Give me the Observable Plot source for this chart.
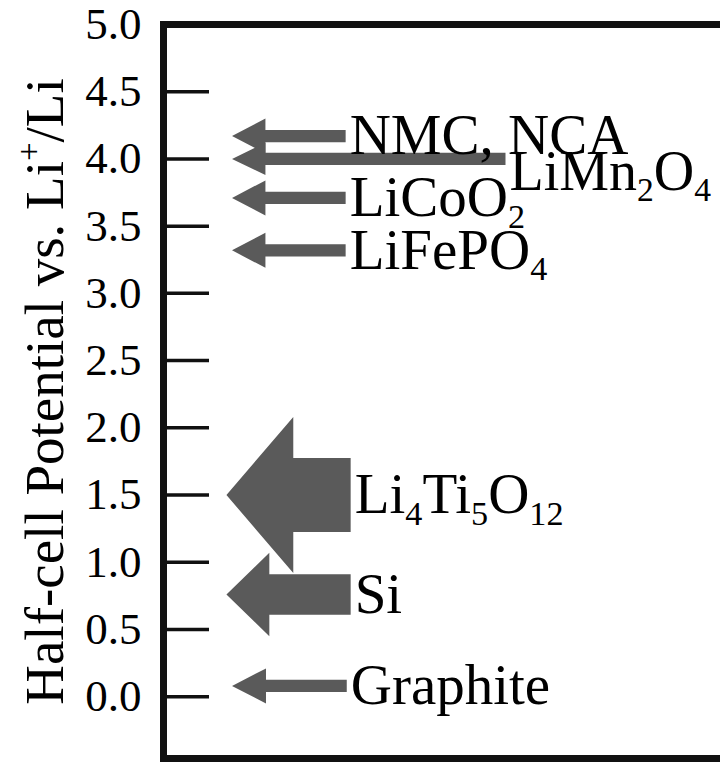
<!DOCTYPE html>
<html>
<head>
<meta charset="utf-8">
<script src="https://cdn.jsdelivr.net/npm/d3@7"></script>
<script src="https://cdn.jsdelivr.net/npm/@observablehq/plot@0.6"></script>
<style>
  html, body { margin: 0; padding: 0; background: #fff; overflow: hidden; }
  #chart svg { display: block; }
</style>
</head>
<body>
<div id="chart"></div>
<script>
// ---- data ----
const materials        = ["NMC, NCA", "LiMn_2O_4", "LiCoO_2", "LiFePO_4", "Li_4Ti_5O_12", "Si", "Graphite"];
const potentials       = [4.17, 4.0, 3.71, 3.32, 1.5, 0.76, 0.08];   // V vs Li+/Li (arrow centre)
const headHalfHeights  = [0.13, 0.12, 0.13, 0.13, 0.58, 0.31, 0.13]; // V
const shaftHalfHeights = [0.046, 0.046, 0.046, 0.046, 0.275, 0.15, 0.046]; // V
const tipX             = [12.3, 12.3, 12.3, 12.3, 11.3, 11.3, 12.3];  // horizontal units (0-100)
const headBaseX        = [18.3, 18.3, 18.3, 18.3, 23.3, 19.0, 18.4];
const tailX            = [32.7, 61.4, 32.7, 32.7, 33.6, 33.6, 32.9];
const yTicks           = [0, 0.5, 1, 1.5, 2, 2.5, 3, 3.5, 4, 4.5, 5];
const yTickLabels      = ["0.0", "0.5", "1.0", "1.5", "2.0", "2.5", "3.0", "3.5", "4.0", "4.5", "5.0"];
const yTitle           = ["Half-cell Potential vs. Li^+/Li"];

// ---- tables built from the arrays ----
const arrows = materials.map((name, i) => ({
  name, y: potentials[i], hh: headHalfHeights[i], sh: shaftHalfHeights[i],
  tip: tipX[i], head: headBaseX[i], tail: tailX[i]
}));
const outline = arrows.flatMap(a => [
  {name: a.name, x: a.tip,  y: a.y},
  {name: a.name, x: a.head, y: a.y + a.hh},
  {name: a.name, x: a.head, y: a.y + a.sh},
  {name: a.name, x: a.tail, y: a.y + a.sh},
  {name: a.name, x: a.tail, y: a.y - a.sh},
  {name: a.name, x: a.head, y: a.y - a.sh},
  {name: a.name, x: a.head, y: a.y - a.hh}
]);

const W = 720, H = 764, ML = 163, MR = 0, MT = 24, MB = 6;
const ink = "#111";
const gray = "#5a5a5a";

const svg = Plot.plot({
  width: W, height: H,
  marginLeft: ML, marginRight: MR, marginTop: MT, marginBottom: MB,
  style: {fontFamily: "'Liberation Serif', 'Times New Roman', serif", background: "#fff", color: ink},
  x: {domain: [0, 100], axis: null},
  y: {domain: [-0.46, 5.0], axis: null},
  marks: [
    Plot.line(outline, {x: "x", y: "y", z: "name", fill: gray, stroke: "none"}),
    Plot.text(arrows.filter(a => a.name !== "LiMn_2O_4"), {
      x: "tail", y: "y", text: "name", textAnchor: "start", lineAnchor: "middle",
      dx: 4, fontSize: 57, fill: "#000"
    }),
    Plot.text(arrows.filter(a => a.name === "LiMn_2O_4"), {
      x: "tail", y: "y", text: "name", textAnchor: "start", lineAnchor: "middle",
      dx: 4, dy: 13, fontSize: 56, fill: "#000"
    }),
    Plot.tickY(yTicks, {y: d => d, stroke: ink, strokeWidth: 3.5, insetRight: (W - ML - MR) - 46}),
    Plot.axisY({
      ticks: yTicks, tickSize: 0, tickPadding: 22,
      tickFormat: d => yTickLabels[yTicks.indexOf(d)],
      fontSize: 45, label: null, fill: "#000"
    }),
    Plot.text(yTitle, {
      frameAnchor: "left", text: d => d, rotate: -90, dx: -118,
      textAnchor: "middle", lineAnchor: "middle", fontSize: 55, fill: "#000"
    }),
    Plot.frame({stroke: ink, strokeWidth: 7, insetRight: -30})
  ]
});

document.getElementById("chart").appendChild(svg);

// render "_n" as subscripts and "^+" as superscripts, keeping real text
function richify(el) {
  const s = el.textContent;
  if (!/[_^]/.test(s)) return;
  const fs = parseFloat(getComputedStyle(el).fontSize) || 54;
  const re = /([_^])(\d+|\+)/g;
  const segs = []; let last = 0, m;
  while ((m = re.exec(s))) {
    if (m.index > last) segs.push({t: s.slice(last, m.index), k: ""});
    segs.push({t: m[2], k: m[1]});
    last = re.lastIndex;
  }
  if (last < s.length) segs.push({t: s.slice(last), k: ""});
  while (el.firstChild) el.removeChild(el.firstChild);
  let cur = 0;
  for (const seg of segs) {
    const ts = document.createElementNS("http://www.w3.org/2000/svg", "tspan");
    const target = seg.k === "_" ? 0.2 * fs : seg.k === "^" ? -0.42 * fs : 0;
    ts.setAttribute("dy", (target - cur).toFixed(2));
    cur = target;
    if (seg.k) ts.setAttribute("font-size", (0.6 * fs).toFixed(1));
    ts.textContent = seg.t;
    el.appendChild(ts);
  }
}
svg.querySelectorAll("text").forEach(el => {
  const spans = el.querySelectorAll("tspan");
  if (spans.length) spans.forEach(richify); else richify(el);
});
</script>
</body>
</html>
